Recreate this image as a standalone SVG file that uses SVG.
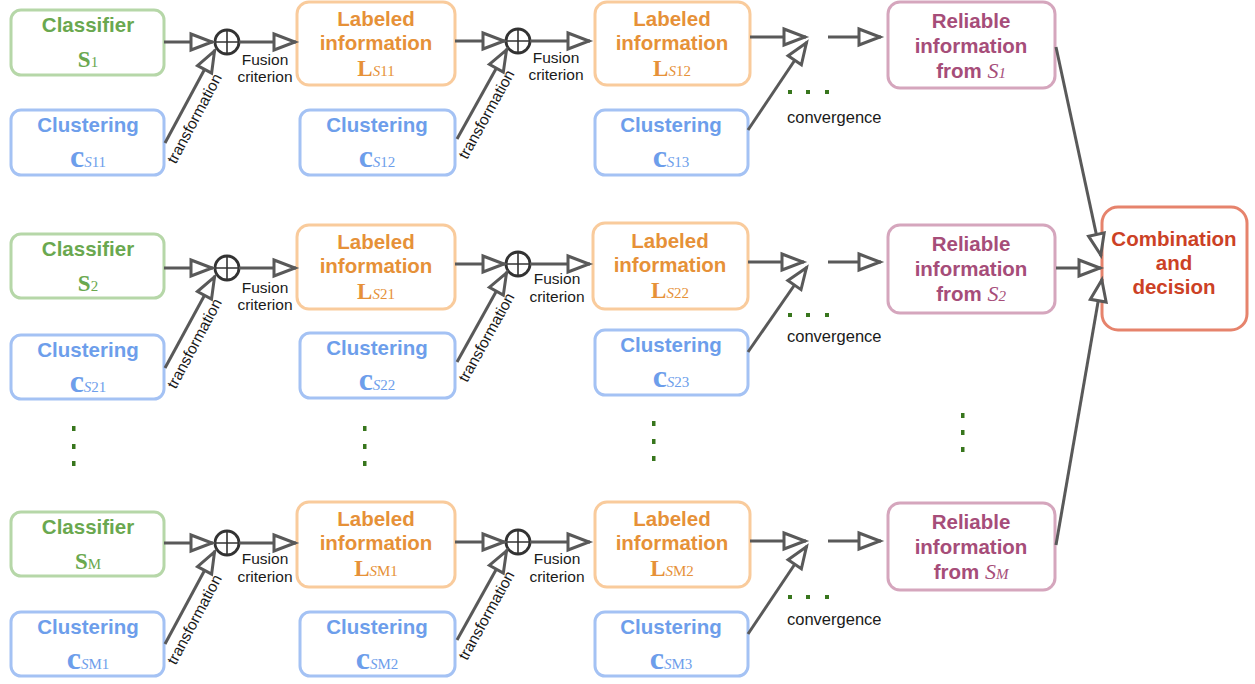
<svg xmlns="http://www.w3.org/2000/svg" width="1255" height="684" viewBox="0 0 1255 684">
<defs>
<marker id="ah" markerUnits="userSpaceOnUse" markerWidth="30" markerHeight="24" refX="24" refY="10" orient="auto" overflow="visible">
<path d="M2,2 L23,10 L2,18 Z" fill="#fff" stroke="#595959" stroke-width="3"/>
</marker>
<style>
.box{fill:#fff;stroke-width:3}
.g .box{stroke:#b6d7a8}.g text{fill:#6aa84f}
.b .box{stroke:#a4c2f4}.b text{fill:#6d9eeb}
.o .box{stroke:#f9cb9c}.o text{fill:#e69138}
.p .box{stroke:#d5a6bd}.p text{fill:#a64d79}
.r .box{stroke:#e6836c}.r text{fill:#cc4125}
.t{font-family:"Liberation Sans",Arial,sans-serif;font-weight:bold;font-size:20.5px;text-anchor:middle}
.m{font-family:"Liberation Serif","Times New Roman",serif;text-anchor:middle}
.big{font-weight:bold;font-size:23px}
.cc{font-weight:bold;font-size:32px}
.sub{font-size:15px;font-weight:normal}
.it{font-style:italic}
.a{stroke:#595959;stroke-width:3;fill:none;marker-end:url(#ah)}
.lab{font-family:"Liberation Sans",Arial,sans-serif;font-size:15.5px;fill:#1a1a1a;text-anchor:middle}
.cv{font-family:"Liberation Sans",Arial,sans-serif;font-size:16.5px;fill:#1a1a1a}
.dot{fill:#38761d}
.ring{fill:#fff;stroke:#333;stroke-width:2.8}
.plus{stroke:#333;stroke-width:1.6}
</style>
</defs>

<!-- Row 1 -->
<g id="classifier1" class="g"><rect class="box" x="11" y="10" width="153" height="65" rx="10"/><text class="t" x="88" y="32">Classifier</text><text class="m" x="88" y="67"><tspan class="big">S</tspan><tspan class="sub">1</tspan></text></g>
<g id="clustering11" class="b"><rect class="box" x="11" y="110" width="153" height="65" rx="10"/><text class="t" x="88" y="132">Clustering</text><text class="m" x="88" y="167"><tspan class="cc">c</tspan><tspan class="sub it">S</tspan><tspan class="sub">11</tspan></text></g>
<g id="labeled11" class="o"><rect class="box" x="297" y="2" width="158" height="83" rx="12"/><text class="t" x="376" y="26">Labeled</text><text class="t" x="376" y="50">information</text><text class="m" x="376" y="76"><tspan class="big">L</tspan><tspan class="sub it">S</tspan><tspan class="sub">11</tspan></text></g>
<g id="clustering12" class="b"><rect class="box" x="300" y="110" width="155" height="65" rx="10"/><text class="t" x="377" y="132">Clustering</text><text class="m" x="377" y="167"><tspan class="cc">c</tspan><tspan class="sub it">S</tspan><tspan class="sub">12</tspan></text></g>
<g id="labeled12" class="o"><rect class="box" x="595" y="2" width="155" height="83" rx="12"/><text class="t" x="672" y="26">Labeled</text><text class="t" x="672" y="50">information</text><text class="m" x="672" y="76"><tspan class="big">L</tspan><tspan class="sub it">S</tspan><tspan class="sub">12</tspan></text></g>
<g id="clustering13" class="b"><rect class="box" x="595" y="110" width="153" height="65" rx="10"/><text class="t" x="671" y="132">Clustering</text><text class="m" x="671" y="167"><tspan class="cc">c</tspan><tspan class="sub it">S</tspan><tspan class="sub">13</tspan></text></g>
<g id="reliable1" class="p"><rect class="box" x="888" y="2" width="167" height="86" rx="12"/><text class="t" x="971" y="28">Reliable</text><text class="t" x="971" y="53">information</text><text class="t" x="971" y="78">from <tspan class="m it" style="font-weight:normal;font-size:22px">S</tspan><tspan class="m it" style="font-weight:normal;font-size:15px">1</tspan></text></g>

<!-- Row 2 -->
<g id="classifier2" class="g"><rect class="box" x="11" y="234" width="153" height="64" rx="10"/><text class="t" x="88" y="256">Classifier</text><text class="m" x="88" y="291"><tspan class="big">S</tspan><tspan class="sub">2</tspan></text></g>
<g id="clustering21" class="b"><rect class="box" x="11" y="335" width="153" height="64" rx="10"/><text class="t" x="88" y="357">Clustering</text><text class="m" x="88" y="392"><tspan class="cc">c</tspan><tspan class="sub it">S</tspan><tspan class="sub">21</tspan></text></g>
<g id="labeled21" class="o"><rect class="box" x="297" y="225" width="158" height="84" rx="12"/><text class="t" x="376" y="249">Labeled</text><text class="t" x="376" y="273">information</text><text class="m" x="376" y="299"><tspan class="big">L</tspan><tspan class="sub it">S</tspan><tspan class="sub">21</tspan></text></g>
<g id="clustering22" class="b"><rect class="box" x="300" y="333" width="155" height="65" rx="10"/><text class="t" x="377" y="355">Clustering</text><text class="m" x="377" y="390"><tspan class="cc">c</tspan><tspan class="sub it">S</tspan><tspan class="sub">22</tspan></text></g>
<g id="labeled22" class="o"><rect class="box" x="593" y="223" width="155" height="86" rx="12"/><text class="t" x="670" y="248">Labeled</text><text class="t" x="670" y="272">information</text><text class="m" x="670" y="298"><tspan class="big">L</tspan><tspan class="sub it">S</tspan><tspan class="sub">22</tspan></text></g>
<g id="clustering23" class="b"><rect class="box" x="595" y="330" width="153" height="65" rx="10"/><text class="t" x="671" y="352">Clustering</text><text class="m" x="671" y="387"><tspan class="cc">c</tspan><tspan class="sub it">S</tspan><tspan class="sub">23</tspan></text></g>
<g id="reliable2" class="p"><rect class="box" x="888" y="225" width="167" height="88" rx="12"/><text class="t" x="971" y="251">Reliable</text><text class="t" x="971" y="276">information</text><text class="t" x="971" y="301">from <tspan class="m it" style="font-weight:normal;font-size:22px">S</tspan><tspan class="m it" style="font-weight:normal;font-size:15px">2</tspan></text></g>

<!-- Row M -->
<g id="classifierM" class="g"><rect class="box" x="11" y="512" width="153" height="64" rx="10"/><text class="t" x="88" y="534">Classifier</text><text class="m" x="88" y="569"><tspan class="big">S</tspan><tspan class="sub">M</tspan></text></g>
<g id="clusteringM1" class="b"><rect class="box" x="11" y="612" width="153" height="64" rx="10"/><text class="t" x="88" y="634">Clustering</text><text class="m" x="88" y="669"><tspan class="cc">c</tspan><tspan class="sub it">S</tspan><tspan class="sub">M1</tspan></text></g>
<g id="labeledM1" class="o"><rect class="box" x="297" y="502" width="158" height="85" rx="12"/><text class="t" x="376" y="526">Labeled</text><text class="t" x="376" y="550">information</text><text class="m" x="376" y="576"><tspan class="big">L</tspan><tspan class="sub it">S</tspan><tspan class="sub">M1</tspan></text></g>
<g id="clusteringM2" class="b"><rect class="box" x="300" y="612" width="155" height="64" rx="10"/><text class="t" x="377" y="634">Clustering</text><text class="m" x="377" y="669"><tspan class="cc">c</tspan><tspan class="sub it">S</tspan><tspan class="sub">M2</tspan></text></g>
<g id="labeledM2" class="o"><rect class="box" x="595" y="502" width="155" height="85" rx="12"/><text class="t" x="672" y="526">Labeled</text><text class="t" x="672" y="550">information</text><text class="m" x="672" y="576"><tspan class="big">L</tspan><tspan class="sub it">S</tspan><tspan class="sub">M2</tspan></text></g>
<g id="clusteringM3" class="b"><rect class="box" x="595" y="612" width="153" height="64" rx="10"/><text class="t" x="671" y="634">Clustering</text><text class="m" x="671" y="669"><tspan class="cc">c</tspan><tspan class="sub it">S</tspan><tspan class="sub">M3</tspan></text></g>
<g id="reliableM" class="p"><rect class="box" x="888" y="503" width="167" height="87" rx="12"/><text class="t" x="971" y="529">Reliable</text><text class="t" x="971" y="554">information</text><text class="t" x="971" y="579">from <tspan class="m it" style="font-weight:normal;font-size:22px">S</tspan><tspan class="m it" style="font-weight:normal;font-size:15px">M</tspan></text></g>

<g id="combination" class="r"><rect class="box" x="1102" y="207" width="145" height="123" rx="16"/><text class="t" x="1174" y="246">Combination</text><text class="t" x="1174" y="270">and</text><text class="t" x="1174" y="294">decision</text></g>

<!-- fusion operators -->
<g id="fuse11"><circle class="ring" cx="227" cy="42" r="12"/><path class="plus" d="M215,42H239M227,30V54"/></g>
<g id="fuse12"><circle class="ring" cx="518" cy="41" r="12"/><path class="plus" d="M506,41H530M518,29V53"/></g>
<g id="fuse21"><circle class="ring" cx="227" cy="268" r="12"/><path class="plus" d="M215,268H239M227,256V280"/></g>
<g id="fuse22"><circle class="ring" cx="518" cy="264" r="12"/><path class="plus" d="M506,264H530M518,252V276"/></g>
<g id="fuseM1"><circle class="ring" cx="227" cy="543" r="12"/><path class="plus" d="M215,543H239M227,531V555"/></g>
<g id="fuseM2"><circle class="ring" cx="518" cy="542" r="12"/><path class="plus" d="M506,542H530M518,530V554"/></g>

<g id="connectors">
<!-- row 1 -->
<line class="a" x1="164" y1="42" x2="213" y2="42"/>
<line class="a" x1="165" y1="143" x2="215" y2="50"/>
<line class="a" x1="239" y1="42" x2="296" y2="42"/>
<line class="a" x1="455" y1="41" x2="505" y2="41"/>
<line class="a" x1="457" y1="139" x2="507" y2="49"/>
<line class="a" x1="530" y1="41" x2="590" y2="41"/>
<line class="a" x1="750" y1="37" x2="806" y2="37"/>
<line class="a" x1="828" y1="37" x2="881" y2="37"/>
<line class="a" x1="748" y1="130" x2="807" y2="42"/>
<line class="a" x1="1056" y1="47" x2="1101" y2="256"/>
<!-- row 2 -->
<line class="a" x1="164" y1="268" x2="213" y2="268"/>
<line class="a" x1="165" y1="368" x2="215" y2="276"/>
<line class="a" x1="239" y1="268" x2="296" y2="268"/>
<line class="a" x1="455" y1="264" x2="505" y2="264"/>
<line class="a" x1="457" y1="362" x2="507" y2="272"/>
<line class="a" x1="530" y1="264" x2="590" y2="264"/>
<line class="a" x1="748" y1="262" x2="804" y2="262"/>
<line class="a" x1="828" y1="262" x2="881" y2="262"/>
<line class="a" x1="748" y1="352" x2="807" y2="267"/>
<line class="a" x1="1056" y1="268" x2="1101" y2="268"/>
<!-- row M -->
<line class="a" x1="164" y1="543" x2="213" y2="543"/>
<line class="a" x1="165" y1="644" x2="215" y2="551"/>
<line class="a" x1="239" y1="543" x2="296" y2="543"/>
<line class="a" x1="455" y1="542" x2="505" y2="542"/>
<line class="a" x1="457" y1="640" x2="507" y2="550"/>
<line class="a" x1="530" y1="542" x2="590" y2="542"/>
<line class="a" x1="750" y1="541" x2="806" y2="541"/>
<line class="a" x1="828" y1="541" x2="881" y2="541"/>
<line class="a" x1="748" y1="634" x2="807" y2="546"/>
<line class="a" x1="1056" y1="545" x2="1102" y2="279"/>
<!-- labels -->
<text class="lab" transform="translate(199,121) rotate(-62)">transformation</text>
<text class="lab" transform="translate(491,117) rotate(-61)">transformation</text>
<text class="lab" transform="translate(199,346) rotate(-62)">transformation</text>
<text class="lab" transform="translate(491,340) rotate(-61)">transformation</text>
<text class="lab" transform="translate(199,622) rotate(-62)">transformation</text>
<text class="lab" transform="translate(491,618) rotate(-61)">transformation</text>
<text class="lab" x="265" y="65">Fusion</text><text class="lab" x="265" y="82">criterion</text>
<text class="lab" x="556" y="63">Fusion</text><text class="lab" x="556" y="80">criterion</text>
<text class="lab" x="265" y="293">Fusion</text><text class="lab" x="265" y="310">criterion</text>
<text class="lab" x="557" y="284">Fusion</text><text class="lab" x="557" y="302">criterion</text>
<text class="lab" x="265" y="564">Fusion</text><text class="lab" x="265" y="582">criterion</text>
<text class="lab" x="557" y="564">Fusion</text><text class="lab" x="557" y="582">criterion</text>
<text class="cv" x="787" y="123">convergence</text>
<text class="cv" x="787" y="342">convergence</text>
<text class="cv" x="787" y="625">convergence</text>
</g>

<g id="ellipses">
<rect class="dot" x="788" y="90" width="4" height="4"/><rect class="dot" x="806" y="90" width="4" height="4"/><rect class="dot" x="825" y="90" width="4" height="4"/>
<rect class="dot" x="788" y="313" width="4" height="4"/><rect class="dot" x="806" y="313" width="4" height="4"/><rect class="dot" x="825" y="313" width="4" height="4"/>
<rect class="dot" x="788" y="595" width="4" height="4"/><rect class="dot" x="806" y="595" width="4" height="4"/><rect class="dot" x="825" y="595" width="4" height="4"/>
<rect class="dot" x="72" y="426" width="3.5" height="5"/><rect class="dot" x="72" y="444" width="3.5" height="5"/><rect class="dot" x="72" y="461" width="3.5" height="5"/>
<rect class="dot" x="363" y="426" width="3.5" height="5"/><rect class="dot" x="363" y="444" width="3.5" height="5"/><rect class="dot" x="363" y="461" width="3.5" height="5"/>
<rect class="dot" x="652" y="421" width="3.5" height="5"/><rect class="dot" x="652" y="439" width="3.5" height="5"/><rect class="dot" x="652" y="456" width="3.5" height="5"/>
<rect class="dot" x="961" y="413" width="3.5" height="5"/><rect class="dot" x="961" y="430" width="3.5" height="5"/><rect class="dot" x="961" y="447" width="3.5" height="5"/>
</g>
</svg>
